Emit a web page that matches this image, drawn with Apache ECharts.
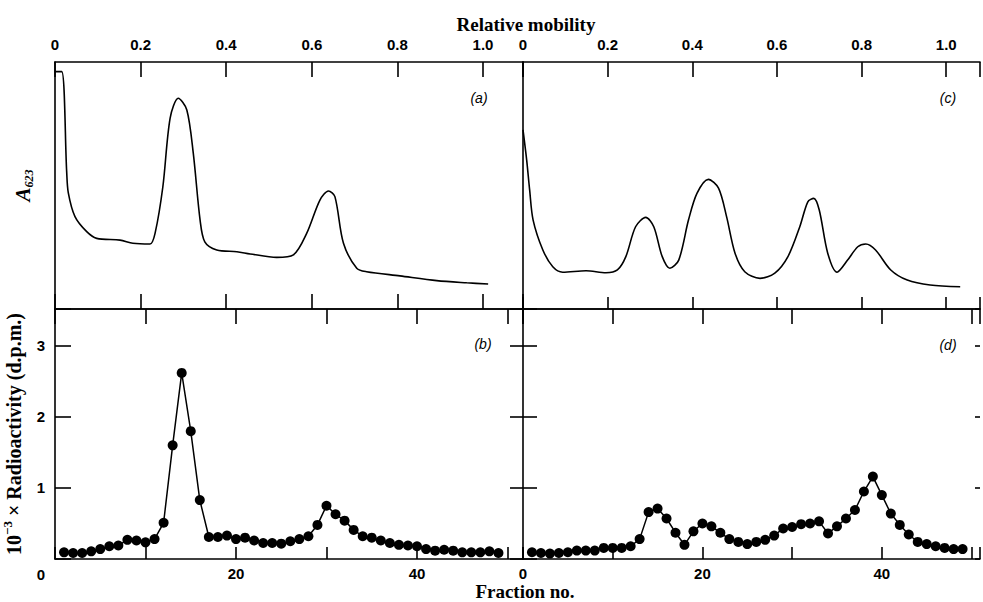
<!DOCTYPE html>
<html><head><meta charset="utf-8">
<script src="https://cdn.jsdelivr.net/npm/echarts@6/dist/echarts.min.js"></script>
<style>html,body{margin:0;padding:0;background:#fff}#c{width:983px;height:602px}</style>
</head><body><div id="c"></div>
<script>
// ---- data ----
const mobilityA = [0, 0.0157, 0.0273, 0.0311, 0.0467, 0.0741, 0.0974, 0.152, 0.182, 0.222, 0.234, 0.252, 0.269, 0.288, 0.308, 0.323, 0.339, 0.350, 0.378, 0.425, 0.456, 0.518, 0.557, 0.588, 0.619, 0.639, 0.654, 0.674, 0.705, 0.728, 0.806, 0.892, 0.962, 1.012];
const absorbanceA = [0.961, 0.961, 0.555, 0.470, 0.374, 0.313, 0.286, 0.279, 0.266, 0.263, 0.308, 0.495, 0.773, 0.853, 0.806, 0.632, 0.360, 0.272, 0.239, 0.232, 0.223, 0.209, 0.219, 0.306, 0.441, 0.478, 0.455, 0.266, 0.165, 0.151, 0.134, 0.115, 0.106, 0.101];
const mobilityC = [0, 0.0087, 0.0157, 0.0239, 0.0469, 0.0704, 0.0939, 0.149, 0.196, 0.223, 0.243, 0.266, 0.290, 0.309, 0.329, 0.347, 0.368, 0.391, 0.411, 0.438, 0.462, 0.481, 0.501, 0.524, 0.560, 0.595, 0.626, 0.654, 0.673, 0.687, 0.700, 0.720, 0.742, 0.767, 0.791, 0.810, 0.833, 0.869, 0.908, 0.962, 1.033];
const absorbanceC = [0.725, 0.603, 0.482, 0.360, 0.239, 0.171, 0.149, 0.155, 0.147, 0.158, 0.212, 0.333, 0.371, 0.333, 0.212, 0.165, 0.198, 0.360, 0.468, 0.525, 0.489, 0.374, 0.226, 0.151, 0.124, 0.145, 0.212, 0.333, 0.434, 0.448, 0.401, 0.226, 0.149, 0.198, 0.252, 0.263, 0.239, 0.158, 0.117, 0.097, 0.090];
const fractions = [1,2,3,4,5,6,7,8,9,10,11,12,13,14,15,16,17,18,19,20,21,22,23,24,25,26,27,28,29,30,31,32,33,34,35,36,37,38,39,40,41,42,43,44,45,46,47,48,49];
const radioactivityB = [0.094,0.085,0.085,0.108,0.14,0.18,0.19,0.27,0.26,0.235, 0.28,0.51,1.60,2.62,1.80,0.83,0.31,0.31,0.33,0.28, 0.30,0.26,0.225,0.225,0.216,0.25,0.28,0.32,0.48,0.75, 0.63,0.54,0.41,0.32,0.30,0.26,0.225,0.20,0.19,0.18, 0.14,0.117,0.13,0.117,0.094,0.094,0.094,0.108,0.085];
const radioactivityD = [0.095,0.085,0.076,0.085,0.095,0.118,0.118,0.118,0.156,0.156, 0.156,0.18,0.28,0.66,0.71,0.57,0.37,0.20,0.39,0.50, 0.46,0.37,0.28,0.24,0.21,0.24,0.27,0.33,0.43,0.45, 0.49,0.50,0.53,0.36,0.46,0.57,0.69,0.95,1.16,0.90, 0.64,0.48,0.345,0.24,0.21,0.18,0.156,0.14,0.14];
const mobilityTickLabels = ['0','0.2','0.4','0.6','0.8','1.0'];
const fractionTickLabels = ['0','20','40'];
const radioTickLabels = ['0','1','2','3'];
const panelLabels = ['(a)','(b)','(c)','(d)'];

// ---- helpers ----
const SANS = '"Liberation Sans", Arial, sans-serif';
const SERIF = '"Liberation Serif", "DejaVu Serif", serif';
const zip = (xs, ys) => xs.map((x, i) => [x, ys[i]]);
const line = {show: true, onZero: false, lineStyle: {color: '#000', width: 1.6}};
const noLine = {show: false, onZero: false};
const tick = len => ({show: true, inside: true, length: len, lineStyle: {color: '#000', width: 1.6}});
const lbl = {color: '#000', fontSize: 15, fontWeight: 'bold', fontFamily: SANS};
function mobFmt(v) {
  const i = Math.round(v / 0.2);
  if (Math.abs(v - i * 0.2) < 1e-6 && i < mobilityTickLabels.length) return mobilityTickLabels[i];
  return '';
}
function fracFmtFactory(hideZero) {
  return v => {
    const s = String(Math.round(v));
    if (Math.abs(v - Math.round(v)) > 1e-6) return '';
    if (hideZero && s === '0') return '';
    return fractionTickLabels.indexOf(s) >= 0 ? s : '';
  };
}
function radFmt(v) {
  if (Math.abs(v - Math.round(v)) > 1e-6) return '';
  const s = String(Math.round(v));
  if (radioTickLabels.indexOf(s) < 0) return '';
  return s === '0' ? '{z|0}' : s;
}
const mobMaxL = 468 / 428, mobMaxR = 460 / 426;
const fracMaxL = 468 / 9.05, fracMaxR = 460 / 9.03;
const radMax = 3.52;

function xa(grid, pos, min, max, interval, tl, labelCfg) {
  return {type: 'value', gridIndex: grid, position: pos, min, max, interval,
    axisLine: line, axisTick: tick(tl), splitLine: {show: false},
    axisLabel: labelCfg ? Object.assign({}, lbl, labelCfg) : {show: false}};
}

const chart = echarts.init(document.getElementById('c'), null, {renderer: 'svg'});
const option = {
  animation: false,
  backgroundColor: '#fff',
  grid: [
    {left: 55, top: 62, width: 468, height: 247},
    {left: 523, top: 62, width: 460, height: 247},
    {left: 55, top: 309, width: 468, height: 250},
    {left: 523, top: 309, width: 460, height: 250}
  ],
  xAxis: [
    xa(0, 'top', 0, mobMaxL, 0.2, 15, {formatter: mobFmt, margin: 10}),
    xa(0, 'bottom', 0, mobMaxL, 0.2, 15, null),
    xa(1, 'top', 0, mobMaxR, 0.2, 15, {formatter: mobFmt, margin: 10}),
    xa(1, 'bottom', 0, mobMaxR, 0.2, 12, null),
    xa(2, 'top', 0, fracMaxL, 10, 15, null),
    xa(2, 'bottom', 0, fracMaxL, 10, 12, {formatter: fracFmtFactory(true), margin: 7}),
    xa(3, 'top', 0, fracMaxR, 10, 15, null),
    xa(3, 'bottom', 0, fracMaxR, 10, 12, {formatter: fracFmtFactory(false), margin: 7})
  ],
  yAxis: [
    {type: 'value', gridIndex: 0, min: 0, max: 1, axisLine: line, axisTick: {show: false}, axisLabel: {show: false}, splitLine: {show: false},
     name: '{a|A}{s|623}', nameLocation: 'middle', nameRotate: 90, nameGap: 20,
     nameTextStyle: {color: '#000', rich: {
       a: {fontFamily: SERIF, fontStyle: 'italic', fontWeight: 'bold', fontSize: 21, lineHeight: 24, verticalAlign: 'middle', color: '#000'},
       s: {fontFamily: SERIF, fontStyle: 'italic', fontWeight: 'bold', fontSize: 12, lineHeight: 12, verticalAlign: 'bottom', color: '#000'}
     }}},
    {type: 'value', gridIndex: 1, min: 0, max: 1, axisLine: line, axisTick: {show: false}, axisLabel: {show: false}, splitLine: {show: false}},
    {type: 'value', gridIndex: 2, position: 'left', min: 0, max: radMax, interval: 1, axisLine: line, axisTick: tick(16), splitLine: {show: false},
     axisLabel: Object.assign({}, lbl, {formatter: radFmt, margin: 10,
       rich: {z: {color: '#000', fontSize: 15, fontWeight: 'bold', fontFamily: SANS, padding: [30, 0, 0, 0]}}}),
     name: '{t|10}{u|−3}{t| × Radioactivity (d.p.m.)}', nameLocation: 'middle', nameRotate: 90, nameGap: 28,
     nameTextStyle: {color: '#000', rich: {
       t: {fontFamily: SERIF, fontWeight: 'bold', fontSize: 20, lineHeight: 26, verticalAlign: 'middle', color: '#000'},
       u: {fontFamily: SERIF, fontWeight: 'bold', fontSize: 13, lineHeight: 13, verticalAlign: 'top', color: '#000'}
     }}},
    {type: 'value', gridIndex: 2, position: 'right', min: 0, max: radMax, interval: 1, axisLine: noLine, axisTick: tick(13), axisLabel: {show: false}, splitLine: {show: false}},
    {type: 'value', gridIndex: 3, position: 'left', min: 0, max: radMax, interval: 1, axisLine: line, axisTick: tick(14), axisLabel: {show: false}, splitLine: {show: false}},
    {type: 'value', gridIndex: 3, position: 'right', min: 0, max: radMax, interval: 1, axisLine: noLine, axisTick: tick(5), axisLabel: {show: false}, splitLine: {show: false}}
  ],
  series: [
    {type: 'line', xAxisIndex: 0, yAxisIndex: 0, data: zip(mobilityA, absorbanceA), smooth: 0.3, symbol: 'none', lineStyle: {color: '#000', width: 1.6}},
    {type: 'line', xAxisIndex: 2, yAxisIndex: 1, data: zip(mobilityC, absorbanceC), smooth: 0.3, symbol: 'none', lineStyle: {color: '#000', width: 1.6}},
    {type: 'line', xAxisIndex: 5, yAxisIndex: 2, data: zip(fractions, radioactivityB), symbol: 'circle', symbolSize: 10, itemStyle: {color: '#000'}, lineStyle: {color: '#000', width: 1.5}},
    {type: 'line', xAxisIndex: 7, yAxisIndex: 4, data: zip(fractions, radioactivityD), symbol: 'circle', symbolSize: 10, itemStyle: {color: '#000'}, lineStyle: {color: '#000', width: 1.5}}
  ],
  graphic: [
    {type: 'text', x: 526, y: 24, style: {text: 'Relative mobility', fontFamily: SERIF, fontWeight: 'bold', fontSize: 19, fill: '#000', align: 'center', verticalAlign: 'middle'}},
    {type: 'text', x: 525, y: 591, style: {text: 'Fraction no.', fontFamily: SERIF, fontWeight: 'bold', fontSize: 19, fill: '#000', align: 'center', verticalAlign: 'middle'}},
    {type: 'text', x: 479, y: 98, style: {text: panelLabels[0], fontFamily: SANS, fontStyle: 'italic', fontSize: 14, fill: '#000', align: 'center', verticalAlign: 'middle'}},
    {type: 'text', x: 483, y: 344, style: {text: panelLabels[1], fontFamily: SANS, fontStyle: 'italic', fontSize: 14, fill: '#000', align: 'center', verticalAlign: 'middle'}},
    {type: 'text', x: 948, y: 98, style: {text: panelLabels[2], fontFamily: SANS, fontStyle: 'italic', fontSize: 14, fill: '#000', align: 'center', verticalAlign: 'middle'}},
    {type: 'text', x: 948, y: 345, style: {text: panelLabels[3], fontFamily: SANS, fontStyle: 'italic', fontSize: 14, fill: '#000', align: 'center', verticalAlign: 'middle'}}
  ]
};
chart.setOption(option);
</script>
</body></html>
